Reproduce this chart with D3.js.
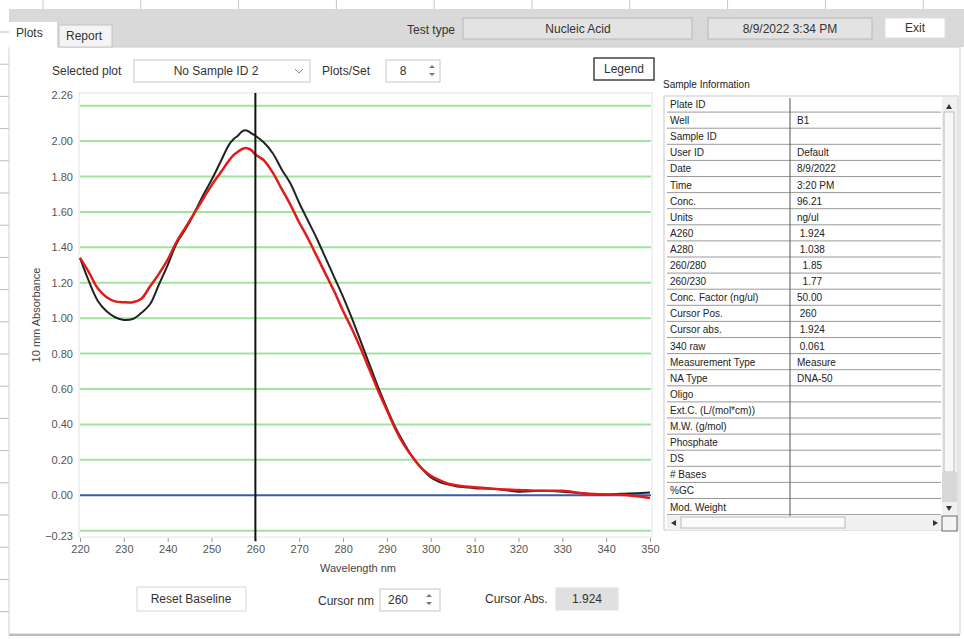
<!DOCTYPE html>
<html>
<head>
<meta charset="utf-8">
<script src="https://cdn.jsdelivr.net/npm/d3@7"></script>
<style>
body { margin: 0; background: #fff; }
text { font-family: "Liberation Sans", "DejaVu Sans", sans-serif; }
</style>
</head>
<body>
<div id="chart"></div>
<script>
var width = 964,
    height = 639

// spectrum
var wavelengths = [220,222,224,226,228,230,232,234,236,238,240,242,244,246,248,250,252,254,255,256,257,258,259,260,262,264,266,268,270,272,274,276,278,280,282,284,286,288,290,292,294,296,298,300,302,304,306,308,310,315,320,325,330,335,340,345,350]
var blackAbs = [1.34,1.21,1.10,1.04,1.005,0.99,0.995,1.03,1.08,1.19,1.30,1.42,1.50,1.59,1.69,1.78,1.88,1.98,2.01,2.03,2.055,2.06,2.045,2.03,1.99,1.93,1.84,1.76,1.65,1.55,1.45,1.34,1.23,1.12,1.00,0.87,0.74,0.61,0.49,0.38,0.29,0.21,0.15,0.10,0.075,0.06,0.05,0.045,0.04,0.035,0.02,0.025,0.02,0.01,0.005,0.01,0.015]
var redAbs = [1.34,1.26,1.17,1.12,1.095,1.09,1.09,1.11,1.18,1.25,1.33,1.43,1.51,1.59,1.67,1.75,1.82,1.89,1.92,1.94,1.955,1.96,1.95,1.924,1.89,1.82,1.73,1.64,1.54,1.45,1.35,1.25,1.15,1.04,0.94,0.83,0.71,0.59,0.48,0.37,0.28,0.21,0.15,0.11,0.085,0.065,0.055,0.05,0.045,0.035,0.03,0.025,0.025,0.01,0.005,0.0,-0.015]

var xTicks = [220,230,240,250,260,270,280,290,300,310,320,330,340,350]
var yTicks = [2.26,2.00,1.80,1.60,1.40,1.20,1.00,0.80,0.60,0.40,0.20,0.00,-0.23]
var gridValues = [2.2,2.0,1.8,1.6,1.4,1.2,1.0,0.8,0.6,0.4,0.2,-0.2]
var cursorNm = 260
var cursorAbs = "1.924"

var infoLabels = ["Plate ID","Well","Sample ID","User ID","Date","Time","Conc.","Units","A260","A280","260/280","260/230","Conc. Factor (ng/ul)","Cursor Pos.","Cursor abs.","340 raw","Measurement Type","NA Type","Oligo","Ext.C. (L/(mol*cm))","M.W. (g/mol)","Phosphate","DS","# Bases","%GC","Mod. Weight"]
var infoValues = ["","B1","","Default","8/9/2022","3:20 PM","96.21","ng/ul"," 1.924"," 1.038","  1.85","  1.77","50.00"," 260"," 1.924"," 0.061","Measure","DNA-50","","","","","","","",""]

var svg = d3.select("#chart")
  .append("svg")
    .attr("width", width)
    .attr("height", height)

// window background
svg.append("rect").attr("width", width).attr("height", height).attr("fill", "#fff")

// spreadsheet behind the window (top strip + left edge)
svg.append("rect").attr("x", 0).attr("y", 0).attr("width", width).attr("height", 9).attr("fill", "#fff")
d3.range(43, 964, 97.8).forEach(function(x) {
  svg.append("line").attr("x1", x).attr("x2", x).attr("y1", 0).attr("y2", 9).attr("stroke", "#c8c8c8")
})
d3.range(32, 639, 32.2).forEach(function(y) {
  svg.append("line").attr("x1", 0).attr("x2", 9).attr("y1", y).attr("y2", y).attr("stroke", "#bbb")
})

// top gray band
svg.append("rect").attr("x", 9).attr("y", 9).attr("width", width - 9).attr("height", 38).attr("fill", "#d9d9d9")
// main white panel
svg.append("rect").attr("x", 9).attr("y", 47).attr("width", 951).attr("height", 587)
  .attr("fill", "#fff").attr("stroke", "#cfcfcf")
svg.append("line").attr("x1", 9).attr("x2", 960).attr("y1", 635).attr("y2", 635).attr("stroke", "#bbb").attr("stroke-width", 2)

// tabs
svg.append("rect").attr("x", 9).attr("y", 22).attr("width", 48).attr("height", 27).attr("fill", "#fff")
svg.append("rect").attr("x", 59).attr("y", 25).attr("width", 53).attr("height", 22).attr("fill", "#f4f4f4").attr("stroke", "#c4c4c4")
svg.append("text").attr("x", 16).attr("y", 37).text("Plots").style("font-size", "12px").attr("fill", "#333")
svg.append("text").attr("x", 66).attr("y", 40).text("Report").style("font-size", "12px").attr("fill", "#333")

function box(x, y, w, h, fill, stroke) {
  return svg.append("rect").attr("x", x).attr("y", y).attr("width", w).attr("height", h)
    .attr("fill", fill).attr("stroke", stroke)
}
function label(x, y, t, anchor, size, color) {
  return svg.append("text").attr("x", x).attr("y", y).text(t)
    .style("font-size", (size || 12) + "px").attr("text-anchor", anchor || "start").attr("fill", color || "#333")
}

label(455, 34, "Test type", "end")
box(463, 18, 229, 21, "#e3e3e3", "#b8b8b8")
label(578, 33, "Nucleic Acid", "middle")
box(708, 18, 164, 21, "#e3e3e3", "#b8b8b8")
label(790, 33, "8/9/2022  3:34 PM", "middle")
box(885, 18, 60, 20, "#fff", "#e0e0e0")
label(915, 32, "Exit", "middle")

// selected plot row
label(52, 75, "Selected plot")
box(134, 60, 176, 22, "#fff", "#c6c6c6")
label(216, 75, "No Sample ID 2", "middle")
svg.append("path").attr("d", "M295,69 l4,4 l4,-4").attr("fill", "none").attr("stroke", "#888")
label(322, 75, "Plots/Set")
box(386, 60, 54, 22, "#fff", "#c6c6c6")
label(403, 75, "8", "middle")
svg.append("path").attr("d", "M429,68 l3,-3 l3,3 Z M429,73 l3,3 l3,-3 Z").attr("fill", "#777")
box(594, 58, 60, 22, "#fff", "#444").attr("stroke-width", 1.5)
label(624, 73, "Legend", "middle")

// plot area
var x = d3.scaleLinear().domain([220, 350]).range([80, 650])
var y = d3.scaleLinear().domain([-0.23, 2.26]).range([536, 95])

svg.append("rect").attr("x", 79).attr("y", 93).attr("width", 573).attr("height", 444)
  .attr("fill", "#fff").attr("stroke", "#e2e2e2")

svg.selectAll(".grid")
  .data(gridValues)
  .enter()
  .append("line")
    .attr("x1", 80).attr("x2", 651)
    .attr("y1", function(d) { return y(d) })
    .attr("y2", function(d) { return y(d) })
    .attr("stroke", "#9fe39f")
    .attr("stroke-width", 2)

svg.append("line").attr("x1", 80).attr("x2", 651).attr("y1", y(0)).attr("y2", y(0))
  .attr("stroke", "#3b5ba8").attr("stroke-width", 2)

var yAxis = svg.append("g")
  .attr("transform", "translate(76,0)")
  .call(d3.axisLeft(y).tickValues(yTicks).tickSize(0).tickFormat(d3.format(".2f")))
yAxis.select(".domain").remove()
yAxis.selectAll("text").style("font-size", "11px").attr("fill", "#555").attr("font-family", "Liberation Sans")

var xAxis = svg.append("g")
  .attr("transform", "translate(0,538)")
  .call(d3.axisBottom(x).tickValues(xTicks).tickSize(4).tickPadding(3))
xAxis.select(".domain").remove()
xAxis.selectAll("line").attr("stroke", "#999")
xAxis.selectAll("text").style("font-size", "11px").attr("fill", "#555").attr("font-family", "Liberation Sans")

label(358, 572, "Wavelength nm", "middle", 11, "#444")
label(0, 0, "10 mm Absorbance", "middle", 11, "#444").attr("transform", "translate(40,315) rotate(-90)")

var line = d3.line()
  .x(function(d) { return x(d[0]) })
  .y(function(d) { return y(d[1]) })
  .curve(d3.curveCatmullRom)

svg.append("path")
  .datum(d3.zip(wavelengths, blackAbs))
  .attr("d", line)
  .attr("fill", "none")
  .attr("stroke", "#222")
  .attr("stroke-width", 2)

svg.append("path")
  .datum(d3.zip(wavelengths, redAbs))
  .attr("d", line)
  .attr("fill", "none")
  .attr("stroke", "#e21a1a")
  .attr("stroke-width", 2.5)

// cursor
svg.append("line").attr("x1", x(cursorNm)).attr("x2", x(cursorNm)).attr("y1", 93).attr("y2", 541)
  .attr("stroke", "#111").attr("stroke-width", 2)

// bottom controls
box(137, 587, 109, 24, "#fff", "#d6d6d6")
label(191, 603, "Reset Baseline", "middle")
label(318, 605, "Cursor nm")
box(380, 589, 60, 22, "#fff", "#c6c6c6")
label(398, 604, String(cursorNm), "middle")
svg.append("path").attr("d", "M426,597 l3,-3 l3,3 Z M426,602 l3,3 l3,-3 Z").attr("fill", "#777")
label(485, 603, "Cursor Abs.")
box(556, 588, 62, 22, "#e0e0e0", "#e0e0e0")
label(587, 603, cursorAbs, "middle")

// sample information table
label(663, 88, "Sample Information", "start", 10, "#222")
var rowH = 16.1, tableTop = 96
box(664, tableTop, 294, 434, "#fff", "#c8c8c8")
svg.selectAll(".row")
  .data(infoLabels)
  .enter()
  .append("line")
    .attr("x1", 667).attr("x2", 941)
    .attr("y1", function(d, i) { return tableTop + (i + 1) * rowH })
    .attr("y2", function(d, i) { return tableTop + (i + 1) * rowH })
    .attr("stroke", "#999")
svg.append("line").attr("x1", 790).attr("x2", 790).attr("y1", tableTop + 2).attr("y2", 516).attr("stroke", "#555")
svg.selectAll(".lab")
  .data(infoLabels)
  .enter()
  .append("text")
    .attr("x", 670)
    .attr("y", function(d, i) { return tableTop + i * rowH + 12 })
    .text(function(d) { return d })
    .style("font-size", "10px")
    .attr("fill", "#222")
svg.selectAll(".val")
  .data(infoValues)
  .enter()
  .append("text")
    .attr("x", 797)
    .attr("y", function(d, i) { return tableTop + i * rowH + 12 })
    .text(function(d) { return d })
    .style("font-size", "10px")
    .style("white-space", "pre")
    .attr("fill", "#222")

// scrollbars
box(942, 97, 15, 418, "#f0f0f0", "none")
svg.append("path").attr("d", "M946,109 l3,-5 l3,5 Z").attr("fill", "#333")
box(944, 112, 10, 360, "#f7f7f7", "#bbb")
box(942, 472, 15, 30, "#d8d8d8", "none")
svg.append("path").attr("d", "M946,506 l3,5 l3,-5 Z").attr("fill", "#333")
box(667, 516, 274, 14, "#f0f0f0", "none")
svg.append("path").attr("d", "M676,520 l-5,3 l5,3 Z").attr("fill", "#333")
box(681, 517, 164, 11, "#fbfbfb", "#bbb")
svg.append("path").attr("d", "M933,520 l5,3 l-5,3 Z").attr("fill", "#333")
box(942, 516, 15, 15, "#f4f4f4", "#666")
</script>
</body>
</html>
